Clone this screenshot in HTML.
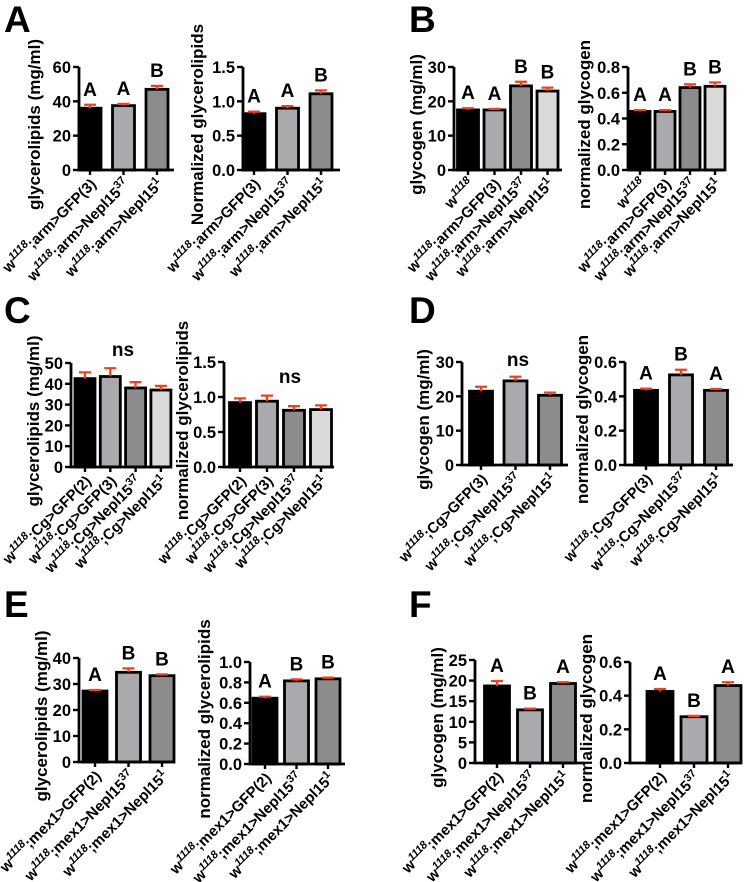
<!DOCTYPE html>
<html><head><meta charset="utf-8">
<style>
html,body{margin:0;padding:0;background:#fff;}
svg{display:block;font-family:"Liberation Sans",Arial,sans-serif;}
</style></head>
<body>
<svg id="fig" width="749" height="882" viewBox="0 0 749 882" xmlns="http://www.w3.org/2000/svg"></svg>
<script>
// ---- data arrays ----
const labelsA = [["w","1118",";arm>GFP(3)",""],["w","1118",";arm>Nepl15","37"],["w","1118",";arm>Nepl15","1"]];
const labelsB = [["w","1118","",""],["w","1118",";arm>GFP(3)",""],["w","1118",";arm>Nepl15","37"],["w","1118",";arm>Nepl15","1"]];
const labelsC = [["w","1118",";Cg>GFP(2)",""],["w","1118",";Cg>GFP(3)",""],["w","1118",";Cg>Nepl15","37"],["w","1118",";Cg>Nepl15","1"]];
const labelsD = [["w","1118",";Cg>GFP(3)",""],["w","1118",";Cg>Nepl15","37"],["w","1118",";Cg>Nepl15","1"]];
const labelsE = [["w","1118",";mex1>GFP(2)",""],["w","1118",";mex1>Nepl15","37"],["w","1118",";mex1>Nepl15","1"]];

const valsA1 = [36, 37.5, 47];       const errA1 = [2, 1, 2];
const valsA2 = [0.82, 0.90, 1.11];   const errA2 = [0.03, 0.03, 0.05];
const valsB1 = [17.5, 17.5, 24.5, 23]; const errB1 = [0.5, 0.3, 1.2, 1];
const valsB2 = [0.455, 0.455, 0.64, 0.65]; const errB2 = [0.01, 0.01, 0.025, 0.03];
const valsC1 = [42.5, 43.5, 38, 37]; const errC1 = [3, 4, 2.8, 2];
const valsC2 = [0.92, 0.94, 0.81, 0.82]; const errC2 = [0.06, 0.08, 0.06, 0.06];
const valsD1 = [21.5, 24.5, 20.3];   const errD1 = [1.3, 1.2, 0.8];
const valsD2 = [0.435, 0.525, 0.435]; const errD2 = [0.01, 0.03, 0.008];
const valsE1 = [27.3, 34.5, 33.2];   const errE1 = [0.4, 1.5, 0.5];
const valsE2 = [0.645, 0.815, 0.835]; const errE2 = [0.015, 0.015, 0.012];
const valsF1 = [18.7, 12.9, 19.3];   const errF1 = [1.2, 0.3, 0.3];
const valsF2 = [0.425, 0.275, 0.46]; const errF2 = [0.015, 0.005, 0.02];

const ticks60 = [0,20,40,60], ticks15 = ["0.0","0.5","1.0","1.5"], ticks30 = [0,10,20,30];
const ticks08 = ["0.0","0.2","0.4","0.6","0.8"], ticks50 = [0,10,20,30,40,50];
const ticks06 = ["0.0","0.2","0.4","0.6"], ticks40 = [0,10,20,30,40], ticks10 = ["0.0","0.2","0.4","0.6","0.8","1.0"];
const ticks25 = [0,5,10,15,20,25];

const sigA1=["A","A","B"], sigA2=["A","A","B"], sigB1=["A","A","B","B"], sigB2=["A","A","B","B"];
const sigD2=["A","B","A"], sigE1=["A","B","B"], sigE2=["A","B","B"], sigF1=["A","B","A"], sigF2=["A","B","A"];

const fills = ["#000000","#a9a9ae","#8c8c8c","#dadada"];
const NS="http://www.w3.org/2000/svg";
const fig=document.getElementById('fig');
function mk(tag, attrs, parent){const e=document.createElementNS(NS,tag);for(const k in attrs)e.setAttribute(k,attrs[k]);(parent||fig).appendChild(e);return e;}

function chart(o){
  const g=mk('g',{});
  
  
  const ymax=o.ymax, top=o.top, bot=o.bot;
  const y=v=>bot-(v/ymax)*(bot-top);
  const cx=i=>o.c0+i*o.s;
  o.vals.forEach((v,i)=>{
    const r=mk('rect',{x:cx(i)-o.w/2,y:y(v),width:o.w,height:bot-y(v),fill:fills[i],stroke:'#000','stroke-width':2.8},g);
    
    
    const e=o.err[i];
    const eb=mk('path',{d:`M${cx(i)} ${y(v)} V${y(v+e)} M${cx(i)-6} ${y(v+e)} H${cx(i)+6}`,stroke:'#f0401c','stroke-width':2.2,fill:'none'},g);
    
    
    if(o.sig){
      const t=mk('text',{x:cx(i),y:y(v+e)-9,'text-anchor':'middle','font-size':19,'font-weight':'bold'},g);
      t.textContent=o.sig[i];
      
      
    }
    mk('line',{x1:cx(i),x2:cx(i),y1:bot,y2:bot+5,stroke:'#000','stroke-width':2.4},g);
    const L=o.labels[i];
    const tx=cx(i)+7, ty=bot+15;
    const t=mk('text',{x:tx,y:ty,'text-anchor':'end','font-size':15,'font-weight':'bold',transform:`rotate(-45 ${tx} ${ty})`},g);
    
    
    const a=mk('tspan',{},t); a.textContent=L[0];
    const b=mk('tspan',{dy:-6,'font-size':11,'font-style':'italic'},t); b.textContent=L[1];
    const c=mk('tspan',{dy:6},t); c.textContent=L[2];
    if(L[3]){const d=mk('tspan',{dy:-6,'font-size':11},t); d.textContent=L[3];}
  });
  mk('path',{d:`M${o.x0} ${top} V${bot} H${o.x1}`,stroke:'#000','stroke-width':2.8,fill:'none'},g);
  o.ticks.forEach(tk=>{
    const v=parseFloat(tk);
    mk('line',{x1:o.x0-6,x2:o.x0,y1:y(v),y2:y(v),stroke:'#000','stroke-width':2.4},g);
    const t=mk('text',{x:o.x0-8,y:y(v)+6,'text-anchor':'end','font-size':16.5,'font-weight':'bold'},g);
    t.textContent=tk;
    
    
  });
  const ty=(top+bot)/2+6, tx=o.x0-o.tdx;
  const tt=mk('text',{x:tx,y:ty,'text-anchor':'middle','font-size':17,'font-weight':'bold',transform:`rotate(-90 ${tx} ${ty})`},g);
  tt.textContent=o.title;
  
  
  if(o.ns){
    const t=mk('text',{x:o.ns[0],y:o.ns[1],'text-anchor':'middle','font-size':19,'font-weight':'bold'},g);
    t.textContent='ns';
    
    
  }
}
function letter(ch,x,y){
  const t=mk('text',{x:x,y:y,'font-size':37,'font-weight':'bold'});
  t.textContent=ch;
  
  
}
letter('A',4,32); letter('B',409,32); letter('C',4,323); letter('D',409,323); letter('E',4,617); letter('F',409,617);

chart({name:'chart-a-glycerolipids',x0:79,x1:174,top:67,bot:170,c0:90,s:33.5,w:22,vals:valsA1,err:errA1,ymax:60,ticks:ticks60,labels:labelsA,sig:sigA1,title:'glycerolipids (mg/ml)',tdx:39});
chart({name:'chart-a-normalized',x0:243,x1:340,top:67,bot:170,c0:254,s:33.5,w:22,vals:valsA2,err:errA2,ymax:1.5,ticks:ticks15,labels:labelsA,sig:sigA2,title:'Normalized glycerolipids',tdx:40});
chart({name:'chart-b-glycogen',x0:454,x1:562,top:67,bot:170,c0:468,s:26.5,w:21,vals:valsB1,err:errB1,ymax:30,ticks:ticks30,labels:labelsB,sig:sigB1,title:'glycogen (mg/ml)',tdx:32});
chart({name:'chart-b-normalized',x0:628,x1:723,top:67,bot:170,c0:640,s:25,w:20,vals:valsB2,err:errB2,ymax:0.8,ticks:ticks08,labels:labelsB,sig:sigB2,title:'normalized glycogen',tdx:38});
chart({name:'chart-c-glycerolipids',x0:71,x1:171,top:363,bot:467,c0:85,s:25.3,w:20,vals:valsC1,err:errC1,ymax:50,ticks:ticks50,labels:labelsC,title:'glycerolipids (mg/ml)',tdx:32,ns:[123,356]});
chart({name:'chart-c-normalized',x0:224,x1:334,top:362,bot:467,c0:240,s:27,w:21,vals:valsC2,err:errC2,ymax:1.5,ticks:ticks15,labels:labelsC,title:'normalized glycerolipids',tdx:36,ns:[290,383]});
chart({name:'chart-d-glycogen',x0:462,x1:568,top:362,bot:465,c0:481,s:34.5,w:23,vals:valsD1,err:errD1,ymax:30,ticks:ticks30,labels:labelsD,title:'glycogen (mg/ml)',tdx:33,ns:[518,366]});
chart({name:'chart-d-normalized',x0:625,x1:733,top:362,bot:465,c0:646,s:35,w:23,vals:valsD2,err:errD2,ymax:0.6,ticks:ticks06,labels:labelsD,sig:sigD2,title:'normalized glycogen',tdx:37});
chart({name:'chart-e-glycerolipids',x0:79,x1:175,top:658,bot:762,c0:95,s:33.5,w:24,vals:valsE1,err:errE1,ymax:40,ticks:ticks40,labels:labelsE,sig:sigE1,title:'glycerolipids (mg/ml)',tdx:32});
chart({name:'chart-e-normalized',x0:250,x1:345,top:662,bot:764,c0:265,s:31.5,w:24,vals:valsE2,err:errE2,ymax:1.0,ticks:ticks10,labels:labelsE,sig:sigE2,title:'normalized glycerolipids',tdx:40});
chart({name:'chart-f-glycogen',x0:475,x1:585,top:660,bot:763,c0:497,s:33,w:25,vals:valsF1,err:errF1,ymax:25,ticks:ticks25,labels:labelsE,sig:sigF1,title:'glycogen (mg/ml)',tdx:32});
chart({name:'chart-f-normalized',x0:630,x1:739,top:662,bot:763,c0:660,s:34,w:26,vals:valsF2,err:errF2,ymax:0.6,ticks:ticks06,labels:labelsE,sig:sigF2,title:'normalized glycogen',tdx:38});
</script>
</body></html>
